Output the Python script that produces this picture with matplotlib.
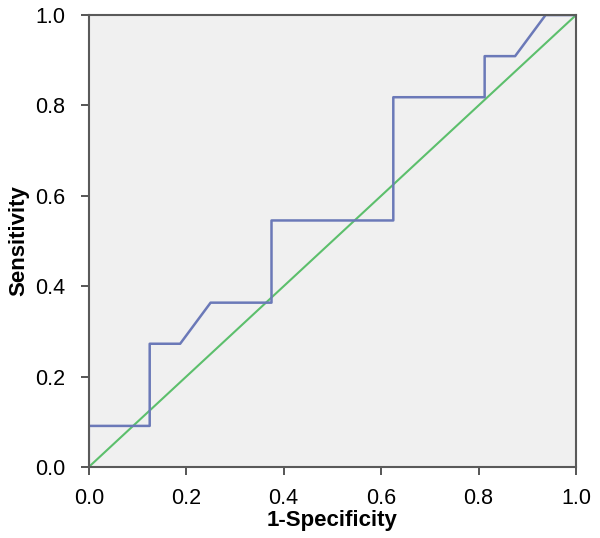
import matplotlib
matplotlib.use('Agg')
import matplotlib.pyplot as plt

# ROC curve points (1-specificity, sensitivity)
fpr = [0.0, 0.0, 0.125, 0.125, 0.1875, 0.25, 0.375, 0.375, 0.625, 0.625, 0.8125, 0.8125, 0.875, 0.9375, 1.0]
tpr = [0.0, 0.0909, 0.0909, 0.2727, 0.2727, 0.3636, 0.3636, 0.5455, 0.5455, 0.8182, 0.8182, 0.9091, 0.9091, 1.0, 1.0]
ref_line = [0.0, 1.0]
ticks = [0.0, 0.2, 0.4, 0.6, 0.8, 1.0]

plt.rcParams['font.family'] = ['Liberation Sans', 'DejaVu Sans']

fig = plt.figure(figsize=(6.0, 5.38), dpi=100)
ax = fig.add_axes([0.148, 0.132, 0.812, 0.840])
ax.set_facecolor('#f0f0f0')

ax.plot(ref_line, ref_line, color='#5cbf6c', lw=1.5)
ax.plot(fpr, tpr, color='#6b79b8', lw=1.8)

ax.set_xlim(0, 1)
ax.set_ylim(0, 1)
ax.set_xticks(ticks)
ax.set_yticks(ticks)
ax.set_xticklabels(['%.1f' % t for t in ticks])
ax.set_yticklabels(['%.1f' % t for t in ticks])
ax.tick_params(direction='out', length=6, width=1.4, color='#555555', labelsize=15.5)
ax.tick_params(axis='x', pad=9)
ax.tick_params(axis='y', pad=11)

for s in ax.spines.values():
    s.set_color('#5a5a5a')
    s.set_linewidth(1.5)

ax.set_xlabel('1-Specificity', fontsize=16, fontweight='bold', labelpad=1)
ax.set_ylabel('Sensitivity', fontsize=16, fontweight='bold', labelpad=4)

fig.savefig('out.png', dpi=100)
